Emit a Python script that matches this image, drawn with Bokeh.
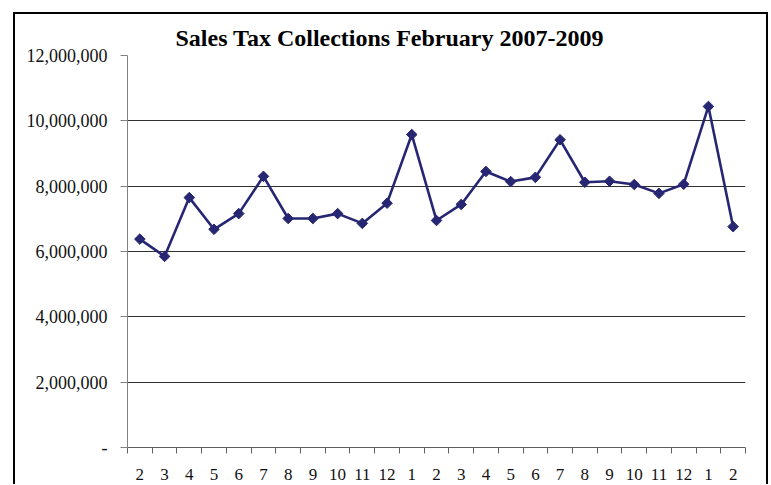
import math
from bokeh.plotting import figure
from bokeh.models import FixedTicker, NumeralTickFormatter, Title
from bokeh.embed import file_html
from bokeh.resources import INLINE

month_labels = ["2", "3", "4", "5", "6", "7", "8", "9", "10", "11", "12",
                "1", "2", "3", "4", "5", "6", "7", "8", "9", "10", "11", "12",
                "1", "2"]
sales = [6380000, 5850000, 7650000, 6680000, 7160000, 8300000, 7010000, 7010000,
         7160000, 6860000, 7480000, 9580000, 6950000, 7440000, 8450000, 8140000,
         8270000, 9420000, 8120000, 8150000, 8050000, 7780000, 8060000, 10440000,
         6760000]
y_ticks = [0, 2000000, 4000000, 6000000, 8000000, 10000000, 12000000]
title_text = "Sales Tax Collections February 2007-2009"

x = list(range(1, len(sales) + 1))
n = len(sales)

FONT = "Liberation Serif"
LINE = "#262672"

p = figure(frame_width=618, frame_height=392,
           min_border_left=112, min_border_right=21,
           min_border_top=41, min_border_bottom=37,
           x_range=(0.5, n + 0.5), y_range=(0, 12000000),
           output_backend="svg", toolbar_location=None,
           background_fill_color="white", border_fill_color="white",
           margin=(12, 0, 0, 13))
p.styles = {"border-top": "2px solid black", "border-left": "2px solid black",
            "border-right": "2px solid black"}
p.outline_line_color = None

p.add_layout(Title(text=title_text, align="left", offset=48,
                   text_font=FONT, text_font_size="24px",
                   text_font_style="bold", text_color="black", standoff=10), "above")

p.line(x, sales, line_color=LINE, line_width=2.6)
p.scatter(x, sales, marker="square", angle=math.pi / 4, size=7.5,
          fill_color=LINE, line_color=LINE)

# y axis
p.yaxis.ticker = FixedTicker(ticks=y_ticks)
p.yaxis.formatter = NumeralTickFormatter(format="0,0")
p.yaxis.major_label_overrides = {0: "-"}
p.yaxis.major_tick_out = 7
p.yaxis.major_tick_in = 0
p.yaxis.minor_tick_line_color = None
p.yaxis.axis_line_color = "#808080"
p.yaxis.major_tick_line_color = "#808080"
p.yaxis.major_label_standoff = 13
p.yaxis.major_label_text_font = FONT
p.yaxis.major_label_text_font_size = "18px"
p.yaxis.major_label_text_color = "#111111"

# x axis
p.xaxis.ticker = FixedTicker(ticks=x, minor_ticks=[i + 0.5 for i in range(0, n + 1)])
p.xaxis.major_label_overrides = {i: lab for i, lab in zip(x, month_labels)}
p.xaxis.major_tick_out = 0
p.xaxis.major_tick_in = 0
p.xaxis.minor_tick_out = 6
p.xaxis.minor_tick_in = 0
p.xaxis.minor_tick_line_color = "#606060"
p.xaxis.axis_line_color = "#606060"
p.xaxis.major_label_standoff = 15
p.xaxis.major_label_text_font = FONT
p.xaxis.major_label_text_font_size = "17px"
p.xaxis.major_label_text_color = "#111111"

p.xgrid.grid_line_color = None
p.ygrid.grid_line_color = "#303030"
p.ygrid.grid_line_width = 1

open("out.html", "w").write(file_html(p, INLINE))
